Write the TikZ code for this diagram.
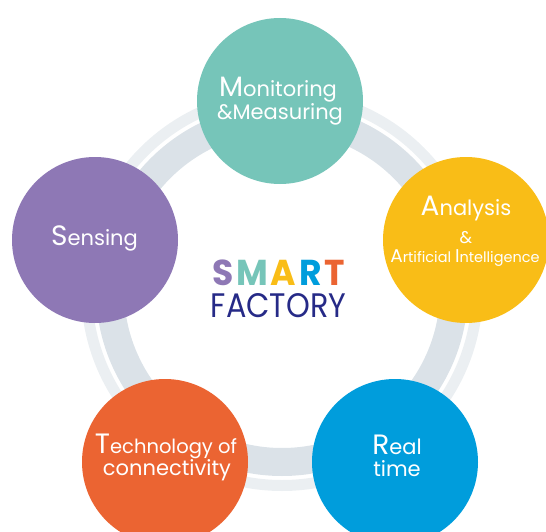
\documentclass[tikz,border=0pt]{standalone}
\usepackage{fontspec}
\setmainfont{Poppins}
\definecolor{bandgray}{HTML}{DBE2E8}
\definecolor{bandlight}{HTML}{EBEFF2}
\definecolor{sfteal}{HTML}{76C5B9}
\definecolor{sfpurple}{HTML}{8E78B5}
\definecolor{sfyellow}{HTML}{F9BD17}
\definecolor{sforange}{HTML}{EB6432}
\definecolor{sfblue}{HTML}{009DDC}
\definecolor{sfnavy}{HTML}{262A87}
\newcommand{\firstlet}[1]{{\fontsize{28}{28}\selectfont #1}}
\newcommand{\smallfirst}[1]{{\fontsize{18.5}{18.5}\selectfont #1}}
\begin{document}
\begin{tikzpicture}[x=1pt,y=-1pt,
    blob/.style={circle,minimum size=166pt,inner sep=0pt},
    blobtext/.style={text=white,anchor=base,inner sep=0pt,font=\fontsize{21}{23}\selectfont}]
    \useasboundingbox (0,0) rectangle (546,532);
    \clip (0,0) rectangle (546,532);
    \draw[bandlight, line width=11pt] (282,290) circle (195.5);
    \draw[bandgray, line width=28pt] (282,290) circle (172);
    \node[blob, fill=sfteal] (monitor) at (280,101) {};
    \node[blob, fill=sfpurple] (sensing) at (95,240) {};
    \node[blob, fill=sfyellow] (analysis) at (466,240) {};
    \node[blob, fill=sforange] (tech) at (165,462) {};
    \node[blob, fill=sfblue] (realtime) at (395,462) {};
    \node[blobtext] (monitor-l1) at (278,97) {\firstlet{M}onitoring};
    \node[blobtext] (monitor-l2) at (280,120) {\&Measuring};
    \node[blobtext] (sensing-l1) at (94.5,245) {\firstlet{S}ensing};
    \node[blobtext] (analysis-l1) at (466,215) {\firstlet{A}nalysis};
    \node[blobtext, font=\fontsize{17}{17}\selectfont] (analysis-l2) at (466,243) {\&};
    \node[blobtext, font=\fontsize{14.5}{14.5}\selectfont] (analysis-l3) at (465,262) {\smallfirst{A}rtificial \smallfirst{I}ntelligence};
    \node[blobtext, font=\fontsize{19.5}{23}\selectfont] (tech-l1) at (166,453) {\firstlet{T}echnology of};
    \node[blobtext] (tech-l2) at (167,475) {connectivity};
    \node[blobtext] (realtime-l1) at (397,454) {\firstlet{R}eal};
    \node[blobtext] (realtime-l2) at (397,476) {time};
    \node[anchor=base, inner sep=0pt, transform shape, xscale=0.96, font=\fontsize{36}{36}\selectfont\bfseries] (smart) at (278.5,285) {\textcolor{sfpurple}{S}\hspace{3pt}\textcolor{sfteal}{M}\hspace{3pt}\textcolor{sfyellow}{A}\hspace{3pt}\textcolor{sfblue}{R}\hspace{3pt}\textcolor{sforange}{T}};
    \node[anchor=base, inner sep=0pt, transform shape, xscale=0.89, font=\fontsize{34}{34}\selectfont, text=sfnavy] (factory) at (278.5,317) {FACTORY};
\end{tikzpicture}
\end{document}
